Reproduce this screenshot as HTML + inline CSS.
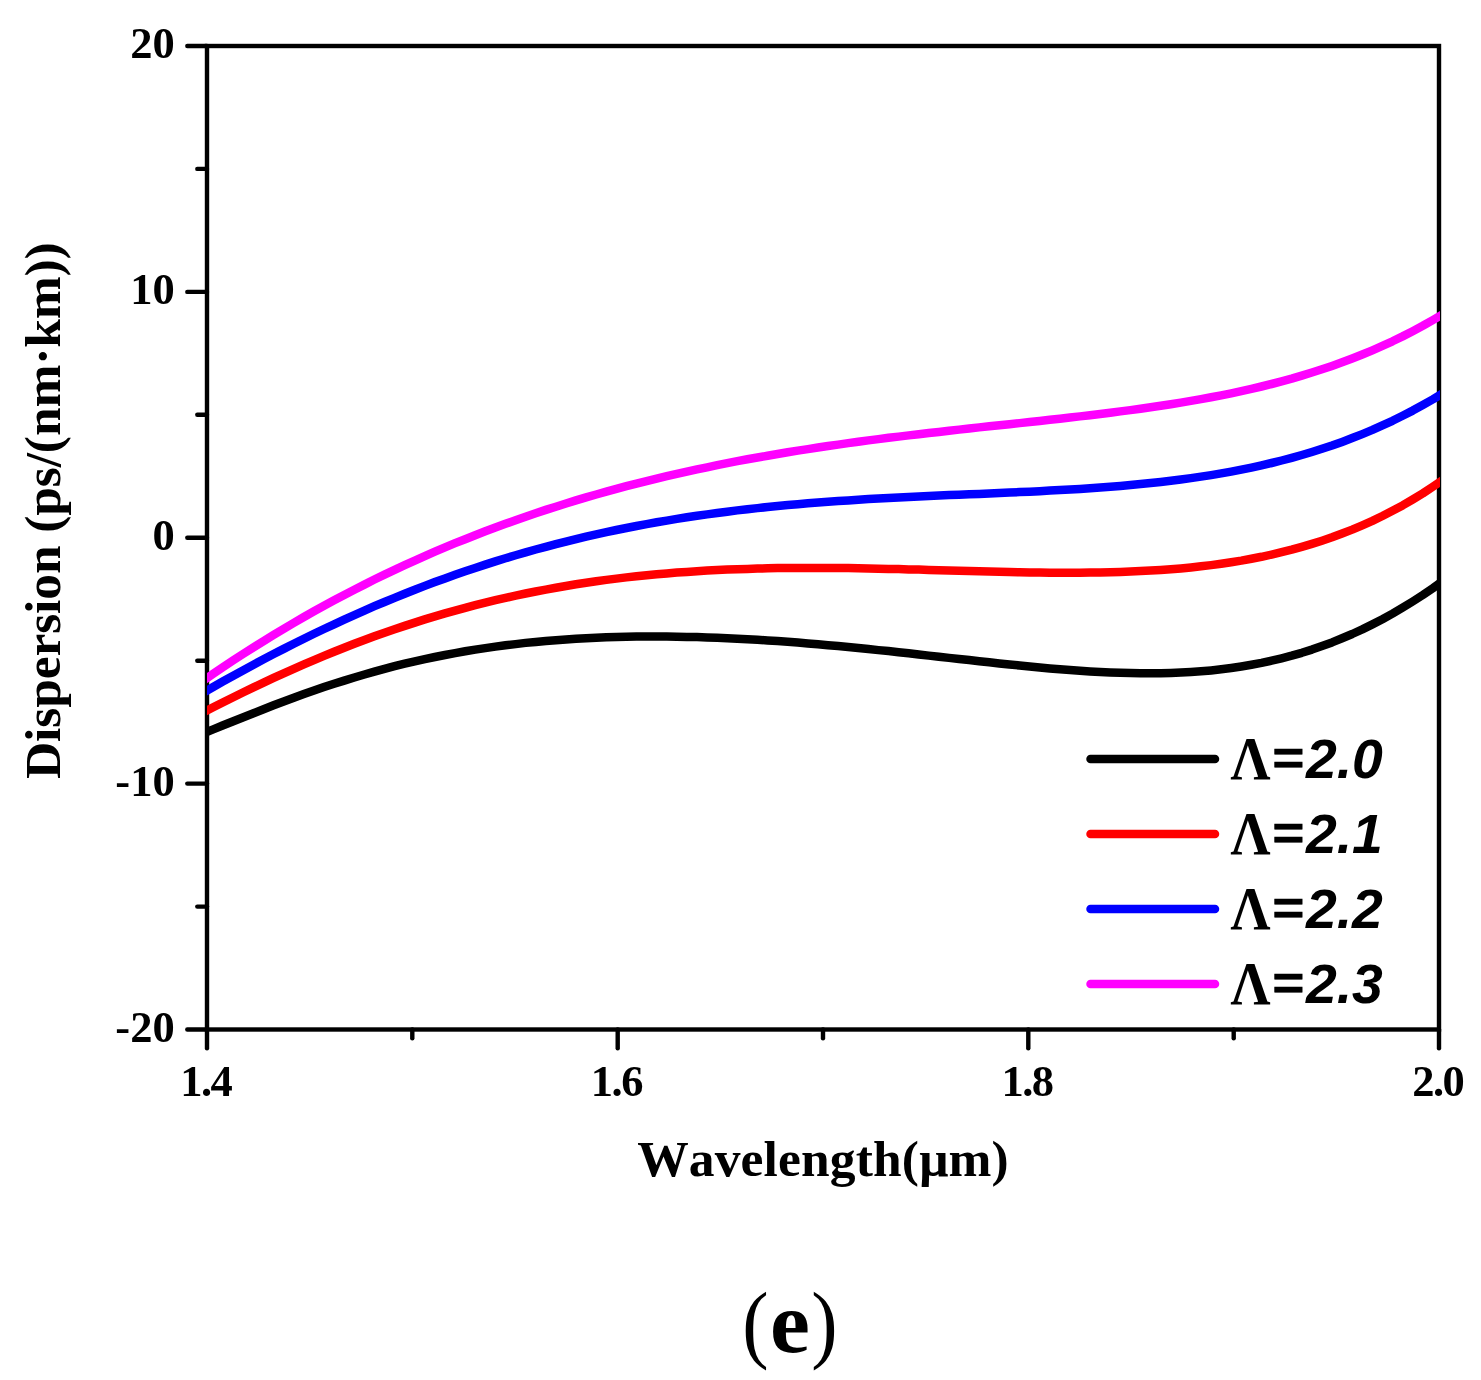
<!DOCTYPE html>
<html lang="en">
<head>
<meta charset="utf-8">
<title>Dispersion vs Wavelength (e)</title>
<style>
html,body{margin:0;padding:0;background:#fff;}
body{width:1481px;height:1380px;overflow:hidden;}
svg{display:block;}
.tk{font-family:"Liberation Serif","DejaVu Serif",serif;font-weight:bold;font-size:44.5px;fill:#000;font-kerning:none;}
.ax{font-family:"Liberation Serif","DejaVu Serif",serif;font-weight:bold;font-size:51.5px;fill:#000;font-kerning:none;}
.lg{font-family:"Liberation Sans","DejaVu Sans",sans-serif;font-weight:bold;font-style:italic;font-size:55.3px;fill:#000;font-kerning:none;}
.lam{font-family:"Liberation Serif","DejaVu Serif",serif;font-weight:bold;font-style:normal;font-size:61px;}
.cap{font-family:"Liberation Serif","DejaVu Serif",serif;font-size:86px;fill:#000;}
</style>
</head>
<body>
<svg width="1481" height="1380" viewBox="0 0 1481 1380">
<rect x="0" y="0" width="1481" height="1380" fill="#ffffff"/>
<g stroke="#000" stroke-width="4.4" fill="none" stroke-linecap="butt">
<rect x="207.0" y="46.0" width="1232.0" height="983.5"/>
</g>
<g stroke="#000" stroke-width="4.4" fill="none" stroke-linecap="round">
<line x1="187.3" y1="46.0" x2="207.0" y2="46.0"/>
<line x1="187.3" y1="291.9" x2="207.0" y2="291.9"/>
<line x1="187.3" y1="537.8" x2="207.0" y2="537.8"/>
<line x1="187.3" y1="783.6" x2="207.0" y2="783.6"/>
<line x1="187.3" y1="1029.5" x2="207.0" y2="1029.5"/>
<line x1="197.3" y1="168.9" x2="207.0" y2="168.9"/>
<line x1="197.3" y1="414.8" x2="207.0" y2="414.8"/>
<line x1="197.3" y1="660.7" x2="207.0" y2="660.7"/>
<line x1="197.3" y1="906.6" x2="207.0" y2="906.6"/>
<line x1="207.0" y1="1029.5" x2="207.0" y2="1048.2"/>
<line x1="617.7" y1="1029.5" x2="617.7" y2="1048.2"/>
<line x1="1028.3" y1="1029.5" x2="1028.3" y2="1048.2"/>
<line x1="1439.0" y1="1029.5" x2="1439.0" y2="1048.2"/>
<line x1="412.3" y1="1029.5" x2="412.3" y2="1038.3"/>
<line x1="823.0" y1="1029.5" x2="823.0" y2="1038.3"/>
<line x1="1233.7" y1="1029.5" x2="1233.7" y2="1038.3"/>
</g>
<defs><clipPath id="plotclip"><rect x="207.0" y="46.0" width="1233.0" height="983.5"/></clipPath></defs>
<g fill="none" stroke-width="8.5" stroke-linecap="butt" stroke-linejoin="round" clip-path="url(#plotclip)">
<path stroke="#000000" d="M193.0 737.6 L203.1 733.5 L213.2 729.4 L223.2 725.3 L233.3 721.2 L243.4 717.2 L253.5 713.2 L263.6 709.2 L273.6 705.3 L283.7 701.5 L293.8 697.7 L303.9 694.1 L314.0 690.6 L324.0 687.1 L334.1 683.8 L344.2 680.6 L354.3 677.5 L364.4 674.5 L374.4 671.6 L384.5 668.9 L394.6 666.2 L404.7 663.7 L414.8 661.4 L424.8 659.1 L434.9 657.0 L445.0 655.0 L455.1 653.1 L465.2 651.3 L475.2 649.6 L485.3 648.1 L495.4 646.6 L505.5 645.3 L515.6 644.1 L525.6 642.9 L535.7 641.9 L545.8 641.0 L555.9 640.2 L566.0 639.4 L576.0 638.8 L586.1 638.2 L596.2 637.7 L606.3 637.3 L616.4 637.0 L626.4 636.8 L636.5 636.6 L646.6 636.5 L656.7 636.5 L666.8 636.6 L676.8 636.7 L686.9 636.9 L697.0 637.1 L707.1 637.4 L717.2 637.8 L727.2 638.2 L737.3 638.7 L747.4 639.2 L757.5 639.8 L767.6 640.4 L777.6 641.1 L787.7 641.8 L797.8 642.6 L807.9 643.4 L818.0 644.3 L828.0 645.2 L838.1 646.1 L848.2 647.0 L858.3 648.0 L868.4 649.0 L878.4 650.1 L888.5 651.1 L898.6 652.2 L908.7 653.3 L918.8 654.5 L928.8 655.6 L938.9 656.7 L949.0 657.9 L959.1 659.0 L969.2 660.1 L979.2 661.2 L989.3 662.3 L999.4 663.4 L1009.5 664.5 L1019.6 665.5 L1029.6 666.5 L1039.7 667.5 L1049.8 668.4 L1059.9 669.3 L1070.0 670.0 L1080.0 670.8 L1090.1 671.4 L1100.2 672.0 L1110.3 672.5 L1120.4 672.8 L1130.4 673.1 L1140.5 673.3 L1150.6 673.3 L1160.7 673.2 L1170.8 673.0 L1180.8 672.6 L1190.9 672.0 L1201.0 671.3 L1211.1 670.4 L1221.2 669.3 L1231.2 668.0 L1241.3 666.5 L1251.4 664.8 L1261.5 662.9 L1271.6 660.7 L1281.6 658.3 L1291.7 655.7 L1301.8 652.8 L1311.9 649.6 L1322.0 646.1 L1332.0 642.4 L1342.1 638.3 L1352.2 634.0 L1362.3 629.4 L1372.4 624.4 L1382.4 619.2 L1392.5 613.6 L1402.6 607.7 L1412.7 601.5 L1422.8 595.0 L1432.8 588.2 L1442.9 581.0 L1453.0 573.5"/>
<path stroke="#ff0000" d="M193.0 717.7 L203.1 712.5 L213.2 707.3 L223.2 702.2 L233.3 697.2 L243.4 692.2 L253.5 687.4 L263.6 682.6 L273.6 677.9 L283.7 673.3 L293.8 668.8 L303.9 664.4 L314.0 660.1 L324.0 655.9 L334.1 651.8 L344.2 647.8 L354.3 643.8 L364.4 640.0 L374.4 636.3 L384.5 632.8 L394.6 629.3 L404.7 625.9 L414.8 622.6 L424.8 619.4 L434.9 616.4 L445.0 613.4 L455.1 610.6 L465.2 607.8 L475.2 605.2 L485.3 602.7 L495.4 600.2 L505.5 597.9 L515.6 595.7 L525.6 593.5 L535.7 591.5 L545.8 589.6 L555.9 587.7 L566.0 586.0 L576.0 584.3 L586.1 582.8 L596.2 581.3 L606.3 579.9 L616.4 578.6 L626.4 577.4 L636.5 576.3 L646.6 575.3 L656.7 574.3 L666.8 573.4 L676.8 572.6 L686.9 571.9 L697.0 571.2 L707.1 570.6 L717.2 570.1 L727.2 569.6 L737.3 569.2 L747.4 568.9 L757.5 568.6 L767.6 568.3 L777.6 568.1 L787.7 568.0 L797.8 567.9 L807.9 567.9 L818.0 567.9 L828.0 567.9 L838.1 568.0 L848.2 568.1 L858.3 568.3 L868.4 568.5 L878.4 568.7 L888.5 568.9 L898.6 569.1 L908.7 569.4 L918.8 569.6 L928.8 569.9 L938.9 570.2 L949.0 570.5 L959.1 570.8 L969.2 571.1 L979.2 571.3 L989.3 571.6 L999.4 571.8 L1009.5 572.1 L1019.6 572.3 L1029.6 572.4 L1039.7 572.6 L1049.8 572.7 L1059.9 572.7 L1070.0 572.8 L1080.0 572.7 L1090.1 572.6 L1100.2 572.5 L1110.3 572.3 L1120.4 572.0 L1130.4 571.6 L1140.5 571.1 L1150.6 570.6 L1160.7 570.0 L1170.8 569.2 L1180.8 568.4 L1190.9 567.4 L1201.0 566.3 L1211.1 565.1 L1221.2 563.7 L1231.2 562.2 L1241.3 560.6 L1251.4 558.7 L1261.5 556.8 L1271.6 554.6 L1281.6 552.2 L1291.7 549.7 L1301.8 546.9 L1311.9 543.9 L1322.0 540.7 L1332.0 537.3 L1342.1 533.5 L1352.2 529.6 L1362.3 525.3 L1372.4 520.8 L1382.4 516.0 L1392.5 510.8 L1402.6 505.4 L1412.7 499.5 L1422.8 493.4 L1432.8 486.8 L1442.9 479.9 L1453.0 472.6"/>
<path stroke="#0000ff" d="M193.0 698.7 L203.1 692.8 L213.2 687.0 L223.2 681.3 L233.3 675.7 L243.4 670.2 L253.5 664.7 L263.6 659.3 L273.6 654.1 L283.7 648.9 L293.8 643.8 L303.9 638.7 L314.0 633.8 L324.0 629.0 L334.1 624.3 L344.2 619.6 L354.3 615.1 L364.4 610.6 L374.4 606.2 L384.5 602.0 L394.6 597.8 L404.7 593.7 L414.8 589.8 L424.8 585.9 L434.9 582.1 L445.0 578.4 L455.1 574.8 L465.2 571.3 L475.2 567.9 L485.3 564.6 L495.4 561.4 L505.5 558.3 L515.6 555.3 L525.6 552.4 L535.7 549.5 L545.8 546.8 L555.9 544.1 L566.0 541.6 L576.0 539.1 L586.1 536.7 L596.2 534.4 L606.3 532.2 L616.4 530.0 L626.4 528.0 L636.5 526.0 L646.6 524.1 L656.7 522.3 L666.8 520.6 L676.8 518.9 L686.9 517.3 L697.0 515.8 L707.1 514.4 L717.2 513.0 L727.2 511.7 L737.3 510.4 L747.4 509.2 L757.5 508.1 L767.6 507.0 L777.6 506.0 L787.7 505.1 L797.8 504.2 L807.9 503.3 L818.0 502.5 L828.0 501.8 L838.1 501.0 L848.2 500.4 L858.3 499.7 L868.4 499.1 L878.4 498.5 L888.5 498.0 L898.6 497.5 L908.7 497.0 L918.8 496.5 L928.8 496.0 L938.9 495.6 L949.0 495.1 L959.1 494.7 L969.2 494.3 L979.2 493.9 L989.3 493.5 L999.4 493.0 L1009.5 492.6 L1019.6 492.1 L1029.6 491.7 L1039.7 491.2 L1049.8 490.6 L1059.9 490.1 L1070.0 489.5 L1080.0 488.9 L1090.1 488.2 L1100.2 487.5 L1110.3 486.7 L1120.4 485.9 L1130.4 485.0 L1140.5 484.1 L1150.6 483.0 L1160.7 481.9 L1170.8 480.7 L1180.8 479.5 L1190.9 478.1 L1201.0 476.6 L1211.1 475.1 L1221.2 473.4 L1231.2 471.6 L1241.3 469.6 L1251.4 467.6 L1261.5 465.4 L1271.6 463.0 L1281.6 460.5 L1291.7 457.8 L1301.8 455.0 L1311.9 452.0 L1322.0 448.8 L1332.0 445.5 L1342.1 441.9 L1352.2 438.1 L1362.3 434.1 L1372.4 429.9 L1382.4 425.4 L1392.5 420.8 L1402.6 415.8 L1412.7 410.6 L1422.8 405.1 L1432.8 399.4 L1442.9 393.3 L1453.0 387.0"/>
<path stroke="#ff00ff" d="M193.0 687.8 L203.1 680.8 L213.2 673.8 L223.2 667.0 L233.3 660.3 L243.4 653.8 L253.5 647.4 L263.6 641.1 L273.6 634.9 L283.7 628.8 L293.8 622.9 L303.9 617.0 L314.0 611.3 L324.0 605.8 L334.1 600.3 L344.2 594.9 L354.3 589.7 L364.4 584.6 L374.4 579.5 L384.5 574.6 L394.6 569.8 L404.7 565.1 L414.8 560.6 L424.8 556.1 L434.9 551.7 L445.0 547.4 L455.1 543.2 L465.2 539.2 L475.2 535.2 L485.3 531.3 L495.4 527.5 L505.5 523.8 L515.6 520.2 L525.6 516.7 L535.7 513.3 L545.8 509.9 L555.9 506.7 L566.0 503.5 L576.0 500.4 L586.1 497.4 L596.2 494.5 L606.3 491.7 L616.4 488.9 L626.4 486.2 L636.5 483.6 L646.6 481.1 L656.7 478.6 L666.8 476.2 L676.8 473.9 L686.9 471.6 L697.0 469.4 L707.1 467.3 L717.2 465.2 L727.2 463.2 L737.3 461.2 L747.4 459.3 L757.5 457.5 L767.6 455.7 L777.6 454.0 L787.7 452.3 L797.8 450.6 L807.9 449.1 L818.0 447.5 L828.0 446.0 L838.1 444.6 L848.2 443.1 L858.3 441.8 L868.4 440.4 L878.4 439.1 L888.5 437.8 L898.6 436.6 L908.7 435.4 L918.8 434.2 L928.8 433.0 L938.9 431.9 L949.0 430.7 L959.1 429.6 L969.2 428.5 L979.2 427.4 L989.3 426.3 L999.4 425.3 L1009.5 424.2 L1019.6 423.1 L1029.6 422.0 L1039.7 420.9 L1049.8 419.8 L1059.9 418.7 L1070.0 417.5 L1080.0 416.4 L1090.1 415.2 L1100.2 414.0 L1110.3 412.7 L1120.4 411.4 L1130.4 410.1 L1140.5 408.7 L1150.6 407.3 L1160.7 405.8 L1170.8 404.2 L1180.8 402.6 L1190.9 400.9 L1201.0 399.1 L1211.1 397.3 L1221.2 395.3 L1231.2 393.3 L1241.3 391.1 L1251.4 388.9 L1261.5 386.5 L1271.6 384.0 L1281.6 381.3 L1291.7 378.6 L1301.8 375.6 L1311.9 372.5 L1322.0 369.3 L1332.0 365.9 L1342.1 362.3 L1352.2 358.5 L1362.3 354.5 L1372.4 350.3 L1382.4 345.9 L1392.5 341.3 L1402.6 336.4 L1412.7 331.2 L1422.8 325.8 L1432.8 320.1 L1442.9 314.2 L1453.0 307.9"/>
</g>
<g class="tk" text-anchor="end">
<text x="174.7" y="58.3">20</text>
<text x="174.7" y="304.2">10</text>
<text x="174.7" y="550.0">0</text>
<text x="174.7" y="795.9">-10</text>
<text x="174.7" y="1041.8">-20</text>
</g>
<g class="tk" text-anchor="middle" letter-spacing="-1.5">
<text x="205.7" y="1095.5">1.4</text>
<text x="616.4" y="1095.5">1.6</text>
<text x="1027.0" y="1095.5">1.8</text>
<text x="1437.7" y="1095.5">2.0</text>
</g>
<text class="ax" text-anchor="middle" letter-spacing="0.15" x="823" y="1175.9">Wavelength(μm)</text>
<text class="ax" text-anchor="middle" letter-spacing="-0.12" transform="translate(60 510.7) rotate(-90)">Dispersion (ps/(nm·km))</text>
<line x1="1090.5" y1="759.0" x2="1215" y2="759.0" stroke="#000000" stroke-width="8.5" stroke-linecap="round"/>
<text class="lg lam" transform="translate(1230.4 778.6) scale(0.915 1.02)">Λ</text>
<text class="lg" font-style="normal" stroke="#000" stroke-width="0.8" transform="translate(1271.6 774.8) scale(0.985 0.87)">=</text>
<text class="lg" x="1305.9" y="777.9">2.0</text>
<line x1="1090.5" y1="834.0" x2="1215" y2="834.0" stroke="#ff0000" stroke-width="8.5" stroke-linecap="round"/>
<text class="lg lam" transform="translate(1230.4 853.6) scale(0.915 1.02)">Λ</text>
<text class="lg" font-style="normal" stroke="#000" stroke-width="0.8" transform="translate(1271.6 849.8) scale(0.985 0.87)">=</text>
<text class="lg" x="1305.9" y="852.9">2.1</text>
<line x1="1090.5" y1="909.0" x2="1215" y2="909.0" stroke="#0000ff" stroke-width="8.5" stroke-linecap="round"/>
<text class="lg lam" transform="translate(1230.4 928.6) scale(0.915 1.02)">Λ</text>
<text class="lg" font-style="normal" stroke="#000" stroke-width="0.8" transform="translate(1271.6 924.8) scale(0.985 0.87)">=</text>
<text class="lg" x="1305.9" y="927.9">2.2</text>
<line x1="1090.5" y1="984.0" x2="1215" y2="984.0" stroke="#ff00ff" stroke-width="8.5" stroke-linecap="round"/>
<text class="lg lam" transform="translate(1230.4 1003.6) scale(0.915 1.02)">Λ</text>
<text class="lg" font-style="normal" stroke="#000" stroke-width="0.8" transform="translate(1271.6 999.8) scale(0.985 0.87)">=</text>
<text class="lg" x="1305.9" y="1002.9">2.3</text>
<text class="cap" transform="translate(742.3 1352) scale(0.92 1)">(</text>
<text class="cap" font-weight="bold" font-size="86.5" transform="translate(770 1352) scale(1.045 1)">e</text>
<text class="cap" transform="translate(811.2 1352) scale(0.92 1)">)</text>
</svg>
</body>
</html>
